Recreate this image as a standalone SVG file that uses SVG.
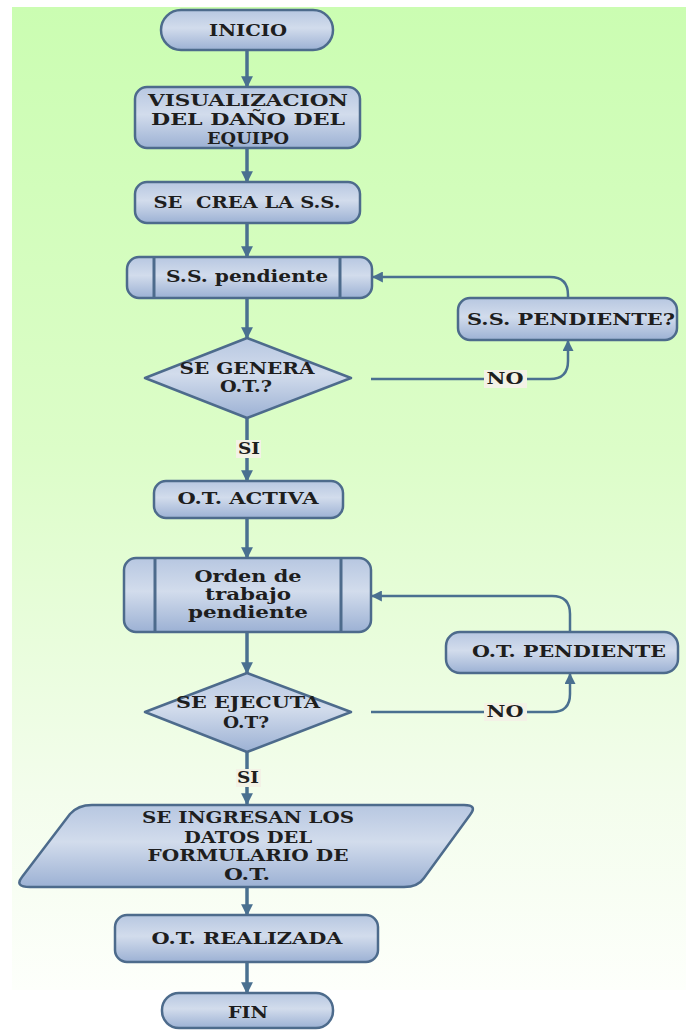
<svg xmlns="http://www.w3.org/2000/svg" width="686" height="1030" viewBox="0 0 686 1030">
<defs>
<linearGradient id="bg" x1="0" y1="0" x2="0" y2="1">
<stop offset="0" stop-color="#cbfdb2"/>
<stop offset="0.45" stop-color="#dcfdc8"/>
<stop offset="0.8" stop-color="#f3fdec"/>
<stop offset="1" stop-color="#fdfffb"/>
</linearGradient>
<linearGradient id="nf" x1="0" y1="0" x2="0" y2="1">
<stop offset="0" stop-color="#b7c7e1"/>
<stop offset="0.45" stop-color="#d2dcec"/>
<stop offset="1" stop-color="#9cb1d4"/>
</linearGradient>
<marker id="ah" viewBox="0 0 10 10" refX="9" refY="5" markerWidth="3.4" markerHeight="3.4" orient="auto" markerUnits="strokeWidth">
<path d="M0,0 L10,5 L0,10 z" fill="#4a7090"/>
</marker>
<marker id="ah2" viewBox="0 0 10 10" refX="9" refY="5" markerWidth="4.4" markerHeight="4.4" orient="auto" markerUnits="strokeWidth">
<path d="M0,0 L10,5 L0,10 z" fill="#4a7090"/>
</marker>
</defs>
<style>
.n{fill:url(#nf);stroke:#4d6b8c;stroke-width:2.5;stroke-linejoin:round}
.v{stroke:#4d6b8c;stroke-width:3}
.t{font-family:"DejaVu Serif","Liberation Serif",serif;font-weight:bold;font-size:16px;fill:#1e1e1e;text-anchor:middle}
.c{fill:none;stroke:#4a7090;stroke-width:3.5}
.s{fill:none;stroke:#4a7090;stroke-width:2.5}
.lb{fill:#f3f2e6}
</style>
<rect x="12" y="7" width="674" height="983" fill="url(#bg)"/>
<g id="connectors">
<line class="c" x1="247" y1="50" x2="247" y2="87" marker-end="url(#ah)"/>
<line class="c" x1="247" y1="148" x2="247" y2="182" marker-end="url(#ah)"/>
<line class="c" x1="247" y1="223" x2="247" y2="257" marker-end="url(#ah)"/>
<line class="c" x1="247" y1="298" x2="247" y2="338" marker-end="url(#ah)"/>
<line class="c" x1="247" y1="418" x2="247" y2="481" marker-end="url(#ah)"/>
<line class="c" x1="247" y1="518" x2="247" y2="558" marker-end="url(#ah)"/>
<line class="c" x1="247" y1="632" x2="247" y2="673" marker-end="url(#ah)"/>
<line class="c" x1="247" y1="752" x2="247" y2="804" marker-end="url(#ah)"/>
<line class="c" x1="247" y1="887" x2="247" y2="915" marker-end="url(#ah)"/>
<line class="c" x1="247" y1="962" x2="247" y2="993" marker-end="url(#ah)"/>
<path class="s" d="M371,379 H550 Q568,379 568,361 V341" marker-end="url(#ah2)"/>
<path class="s" d="M568,298 V295 Q568,277 550,277 H373" marker-end="url(#ah2)"/>
<path class="s" d="M371,712 H552 Q570,712 570,694 V674" marker-end="url(#ah2)"/>
<path class="s" d="M570,632 V614 Q570,596 552,596 H372" marker-end="url(#ah2)"/>
<rect class="lb" x="236" y="440" width="25" height="18"/>
<text class="t" x="249" y="454" textLength="22" lengthAdjust="spacingAndGlyphs">SI</text>
<rect class="lb" x="484" y="370" width="43" height="18"/>
<text class="t" x="505" y="384" textLength="37" lengthAdjust="spacingAndGlyphs">NO</text>
<rect class="lb" x="484" y="703" width="43" height="18"/>
<text class="t" x="505" y="717" textLength="37" lengthAdjust="spacingAndGlyphs">NO</text>
<rect class="lb" x="236" y="769" width="25" height="18"/>
<text class="t" x="248" y="783" textLength="22" lengthAdjust="spacingAndGlyphs">SI</text>
</g>
<g id="inicio">
<rect class="n" x="161" y="10" width="172" height="40" rx="20"/>
<text class="t" x="248" y="36" textLength="78" lengthAdjust="spacingAndGlyphs">INICIO</text>
</g>
<g id="visualizacion">
<rect class="n" x="135" y="87" width="225" height="61" rx="12"/>
<text class="t" x="248" y="106" textLength="200" lengthAdjust="spacingAndGlyphs">VISUALIZACION</text>
<text class="t" x="248" y="125" textLength="194" lengthAdjust="spacingAndGlyphs">DEL DAÑO DEL</text>
<text class="t" x="248" y="144" textLength="82" lengthAdjust="spacingAndGlyphs">EQUIPO</text>
</g>
<g id="crea">
<rect class="n" x="135" y="182" width="225" height="41" rx="12"/>
<text class="t" x="247" y="208" textLength="187" lengthAdjust="spacingAndGlyphs" style="white-space:pre">SE  CREA LA S.S.</text>
</g>
<g id="ss_pendiente">
<rect class="n" x="127" y="257" width="245" height="41" rx="12"/>
<line class="v" x1="154" y1="258" x2="154" y2="297"/>
<line class="v" x1="340" y1="258" x2="340" y2="297"/>
<text class="t" x="247" y="282" textLength="162" lengthAdjust="spacingAndGlyphs">S.S. pendiente</text>
</g>
<g id="ss_pendiente_q">
<rect class="n" x="458" y="298" width="219" height="42" rx="12"/>
<text class="t" x="571" y="325" textLength="208" lengthAdjust="spacingAndGlyphs">S.S. PENDIENTE?</text>
</g>
<g id="genera">
<polygon class="n" points="247,338 351,378 247,418 145,378"/>
<text class="t" x="247" y="374" textLength="135" lengthAdjust="spacingAndGlyphs">SE GENERA</text>
<text class="t" x="246" y="392" textLength="52" lengthAdjust="spacingAndGlyphs">O.T.?</text>
</g>
<g id="activa">
<rect class="n" x="154" y="481" width="189" height="37" rx="12"/>
<text class="t" x="248" y="504" textLength="141" lengthAdjust="spacingAndGlyphs">O.T. ACTIVA</text>
</g>
<g id="orden">
<rect class="n" x="124" y="558" width="247" height="74" rx="12"/>
<line class="v" x1="155" y1="559" x2="155" y2="631"/>
<line class="v" x1="341" y1="559" x2="341" y2="631"/>
<text class="t" x="248" y="582" textLength="107" lengthAdjust="spacingAndGlyphs">Orden de</text>
<text class="t" x="248" y="600" textLength="86" lengthAdjust="spacingAndGlyphs">trabajo</text>
<text class="t" x="248" y="618" textLength="120" lengthAdjust="spacingAndGlyphs">pendiente</text>
</g>
<g id="ot_pendiente">
<rect class="n" x="446" y="632" width="232" height="41" rx="14"/>
<text class="t" x="569" y="657" textLength="194" lengthAdjust="spacingAndGlyphs">O.T. PENDIENTE</text>
</g>
<g id="ejecuta">
<polygon class="n" points="247,673 351,712 247,752 145,712"/>
<text class="t" x="248" y="708" textLength="144" lengthAdjust="spacingAndGlyphs">SE EJECUTA</text>
<text class="t" x="246" y="728" textLength="46" lengthAdjust="spacingAndGlyphs">O.T?</text>
</g>
<g id="ingresan">
<path class="n" d="M92,805 H464 Q478,805 470,815 L424,878 Q418,887 404,887 H30 Q14,887 22,877 L70,814 Q78,805 92,805 Z"/>
<text class="t" x="248" y="823" textLength="212" lengthAdjust="spacingAndGlyphs">SE INGRESAN LOS</text>
<text class="t" x="248" y="843" textLength="128" lengthAdjust="spacingAndGlyphs">DATOS DEL</text>
<text class="t" x="248" y="861" textLength="201" lengthAdjust="spacingAndGlyphs">FORMULARIO DE</text>
<text class="t" x="247" y="880" textLength="46" lengthAdjust="spacingAndGlyphs">O.T.</text>
</g>
<g id="realizada">
<rect class="n" x="115" y="915" width="263" height="47" rx="12"/>
<text class="t" x="247" y="944" textLength="191" lengthAdjust="spacingAndGlyphs">O.T. REALIZADA</text>
</g>
<g id="fin">
<rect class="n" x="162" y="993" width="171" height="35" rx="17"/>
<text class="t" x="248" y="1018" textLength="40" lengthAdjust="spacingAndGlyphs">FIN</text>
</g>
</svg>
